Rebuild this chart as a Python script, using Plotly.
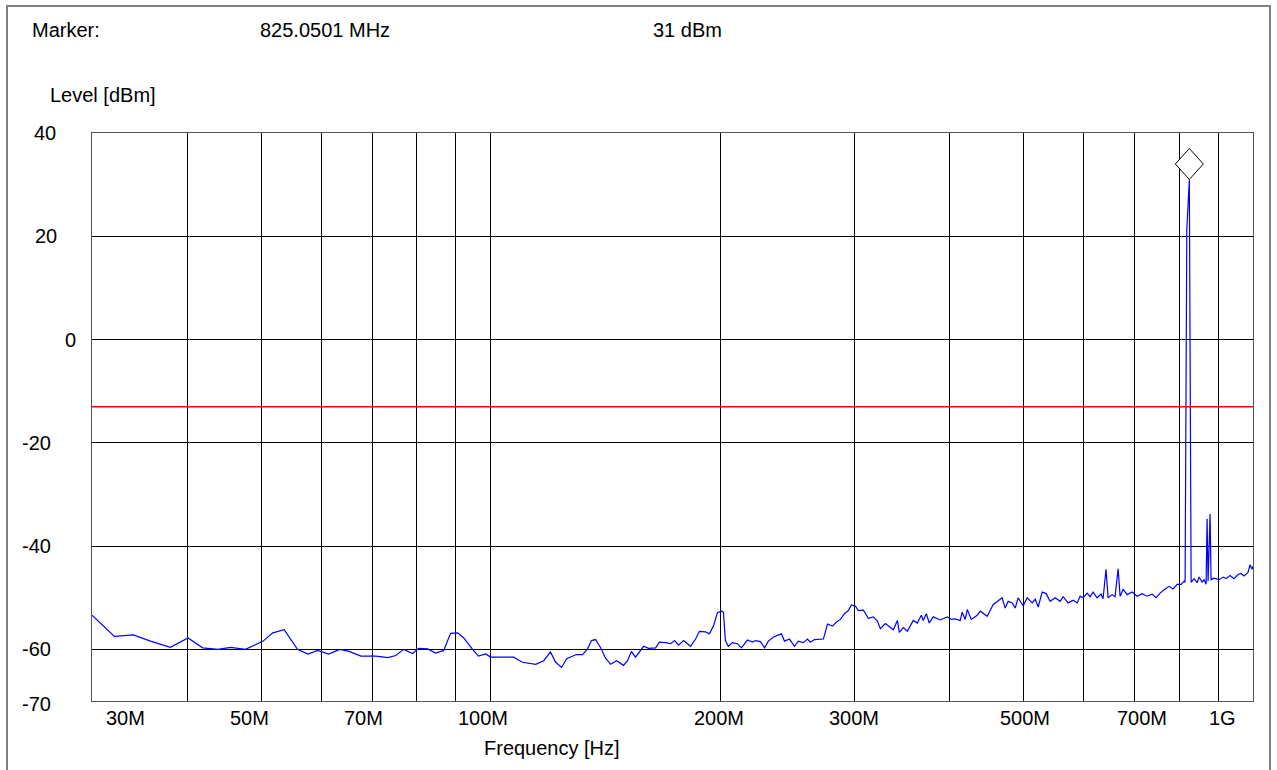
import numpy as np
import plotly.graph_objects as go

# ---------------- data ----------------
freq_mhz = [
    30.0, 32.1, 34.0, 35.8, 38.0, 40.1, 41.9, 43.9, 45.6, 47.7, 50.3, 51.8, 53.6, 55.0,
    55.8, 57.6, 59.3, 61.3, 63.4, 65.2, 67.6, 70.7, 73.3, 75.1, 76.9, 79.0, 80.5, 82.7,
    84.7, 86.8, 88.6, 90.5, 92.2, 94.7, 96.4, 98.5, 100.0,
    104.0, 107.2, 110.1, 114.6, 117.4, 119.8, 121.7, 123.9, 125.8, 129.6, 132.0, 134.0,
    135.6, 137.3, 139.4, 141.5, 143.7, 146.3, 149.4, 151.2, 153.0, 154.9, 158.7, 161.1,
    164.6, 166.5, 169.6, 172.2, 174.3, 176.4, 179.1, 182.9,
    185.7, 187.9, 191.3, 193.6, 196.0, 198.4, 200.8, 202.0, 203.2, 205.0, 207.6, 210.7,
    213.3, 217.2, 220.5, 222.5, 225.9, 228.7, 231.4, 235.0, 237.8, 240.7, 242.9, 246.6,
    250.3, 253.3, 257.2, 260.3, 262.7, 265.9, 273.2, 276.6, 280.8, 284.2, 287.6, 291.1,
    294.6, 297.3, 300.9, 303.6, 308.3, 313.0, 317.7, 321.6, 324.5, 329.4,
    337.5, 341.6, 343.6, 347.8, 352.0, 358.4, 362.8, 367.2, 369.4, 372.8, 376.2, 380.7,
    388.9, 397.2, 402.1, 406.9, 413.0, 415.5, 419.3, 421.9, 427.0, 434.8, 438.8, 448.1,
    456.3, 461.8, 468.8, 473.1, 477.4, 483.2, 487.6, 492.0, 499.5, 505.6, 513.3, 518.0,
    522.7, 529.0, 535.4, 541.9, 550.2, 558.6, 563.6, 572.1, 580.8, 587.9, 593.3,
    598.7, 605.9, 611.4, 617.0, 624.4, 632.0, 635.8, 641.5, 645.6, 653.4, 659.3, 665.4,
    669.4, 675.5, 683.8, 694.1, 704.7, 715.3, 726.2, 737.3, 746.2, 755.3, 766.9, 776.2,
    785.6, 795.2, 804.9, 812.2, 814.6, 818.8, 825.05, 829.5,
    837.2, 844.7, 849.8, 857.5, 862.7, 867.9, 870.5, 873.1, 878.4, 881.0, 888.9, 902.5,
    913.5, 921.8, 933.0, 944.3, 955.7, 964.5, 973.2, 985.0, 991.0, 997.0, 1000.0,
]
level_dbm = [
    -53.4, -57.5, -57.2, -58.4, -59.6, -57.8, -59.7, -60.0, -59.6, -60.0, -58.4, -56.8, -56.2, -58.7,
    -60.0, -60.9, -60.2, -60.9, -60.0, -60.4, -61.3, -61.3, -61.6, -61.2, -60.0, -60.8, -59.8, -59.9,
    -60.7, -60.2, -56.9, -56.8, -57.8, -60.0, -61.3, -60.9, -61.5,
    -61.5, -61.5, -62.5, -62.9, -62.2, -60.5, -62.5, -63.5, -61.8, -61.0, -61.0, -59.9,
    -58.3, -58.1, -59.7, -61.7, -62.9, -62.2, -63.1, -62.2, -60.4, -61.5, -59.4, -59.8,
    -59.7, -58.6, -58.7, -58.9, -58.3, -59.2, -58.3, -59.4,
    -58.0, -56.5, -56.6, -57.0, -55.5, -52.9, -52.6, -52.8, -58.3, -59.4, -58.7, -58.9,
    -59.7, -58.2, -58.6, -58.3, -58.5, -59.7, -58.4, -57.6, -57.3, -57.0, -58.4, -58.0,
    -59.4, -58.4, -58.7, -58.0, -58.6, -58.1, -58.0, -55.1, -55.5, -54.7, -54.2, -53.1,
    -52.5, -51.4, -51.6, -52.5, -52.4, -54.0, -53.7, -54.5, -56.0, -55.0,
    -56.2, -54.4, -56.7, -55.8, -56.5, -54.4, -54.9, -53.4, -54.4, -53.1, -54.9, -53.7,
    -54.3, -53.7, -54.2, -54.1, -54.4, -52.8, -54.2, -52.3, -54.2, -53.4, -52.6, -53.6,
    -51.3, -50.7, -50.0, -52.0, -50.7, -51.0, -52.0, -50.0, -51.6, -50.0, -51.0, -50.3,
    -51.8, -48.9, -49.2, -50.7, -50.0, -50.7, -49.8, -51.0, -50.5, -51.0, -49.7,
    -50.0, -49.1, -49.8, -48.9, -50.0, -49.3, -50.2, -44.5, -50.0, -49.4, -49.8, -44.4,
    -49.7, -48.4, -49.4, -48.9, -49.7, -49.2, -49.7, -49.3, -50.0, -49.1, -48.3, -47.8,
    -48.3, -47.4, -47.4, -46.8, -47.0, 21.3, 31.0, -47.0,
    -46.3, -47.1, -46.0, -47.0, -46.5, -47.4, -34.7, -46.8, -33.8, -46.5, -46.2, -46.5,
    -46.0, -46.3, -45.7, -46.3, -45.5, -45.3, -45.8, -45.1, -43.6, -44.5, -43.9,
]

limit_dbm = -13
marker_freq_mhz = 825.0501
marker_level_dbm = 31

x_grid_mhz = [40, 50, 60, 70, 80, 90, 100, 200, 300, 400, 500, 600, 700, 800, 900]
x_tick_mhz = [30, 50, 70, 100, 200, 300, 500, 700, 1000]
x_tick_text = ["30M", "50M", "70M", "100M", "200M", "300M", "500M", "700M", "1G"]
y_tick_vals = [40, 20, 0, -20, -40, -60, -70]
y_tick_text = ["40", "20", "0", "-20", "-40", "-60", "-70"]

# ---------------- figure ----------------
FONT = "Liberation Sans, Arial, sans-serif"
FS = 20
TOP, PLOT_H = 133, 568

fig = go.Figure()
fig.add_trace(go.Scatter(
    x=[f * 1e6 for f in freq_mhz], y=level_dbm, mode="lines",
    line=dict(color="#0000ff", width=1.2), hoverinfo="skip", showlegend=False,
))

# limit line
fig.add_shape(type="line", xref="paper", x0=0, x1=1, yref="y", y0=limit_dbm, y1=limit_dbm,
              line=dict(color="#ff0000", width=1.5), layer="above")

# marker diamond (bottom vertex on the marker peak)
fig.add_shape(type="path", xref="x", yref="y", xsizemode="pixel", ysizemode="pixel",
              xanchor=marker_freq_mhz * 1e6, yanchor=marker_level_dbm,
              path="M 0,0 L 14,15.5 L 0,31 L -14,15.5 Z",
              line=dict(color="black", width=1), fillcolor="white", layer="above")


def py(p):
    """pixel row -> paper y"""
    return (TOP + PLOT_H - p) / PLOT_H


def px(p):
    """pixel column -> paper x"""
    return (p - 92) / 1161


# outer frame
fig.add_shape(type="rect", xref="paper", yref="paper",
              x0=px(7), x1=px(1270), y0=py(790), y1=py(6),
              line=dict(color="#808080", width=2), fillcolor="rgba(0,0,0,0)", layer="below")

annotations = []
# x tick labels (positioned like the analyzer printout)
x_shifts = [33, -12, -9, -8, -1, 0, 1, 7, -31]
for f, t, s in zip(x_tick_mhz, x_tick_text, x_shifts):
    annotations.append(dict(x=np.log10(f * 1e6), xref="x", y=py(718), yref="paper",
                            text=t, showarrow=False, xanchor="center", yanchor="middle",
                            xshift=s, font=dict(size=FS)))
# y tick labels
y_label_x = {"40": 45, "20": 46, "0": 70}
for v, t in zip(y_tick_vals, y_tick_text):
    annotations.append(dict(x=px(y_label_x.get(t, 36)), xref="paper", y=v, yref="y",
                            text=t, showarrow=False, xanchor="center", yanchor="middle",
                            yshift=-3 if v == -70 else 0, font=dict(size=FS)))
# header / axis titles
annotations += [
    dict(x=px(30), y=py(30), text="Marker:", xanchor="left"),
    dict(x=px(258), y=py(30), text=f"{marker_freq_mhz:.4f} MHz", xanchor="left"),
    dict(x=px(651), y=py(30), text=f"{marker_level_dbm} dBm", xanchor="left"),
    dict(x=px(48), y=py(95), text="Level [dBm]", xanchor="left"),
    dict(x=px(552), y=py(748), text="Frequency [Hz]", xanchor="center"),
]
for a in annotations[-5:]:
    a.update(xref="paper", yref="paper", showarrow=False, yanchor="middle", font=dict(size=FS))

fig.update_layout(
    width=1277, height=770,
    margin=dict(l=92, r=24, t=TOP, b=770 - TOP - PLOT_H),
    paper_bgcolor="white", plot_bgcolor="white",
    font=dict(family=FONT, size=FS, color="black"),
    annotations=annotations,
    showlegend=False,
)
fig.update_xaxes(type="log", range=[np.log10(30e6), np.log10(1e9)],
                 tickvals=[f * 1e6 for f in x_grid_mhz], showticklabels=False, ticks="",
                 showgrid=True, gridcolor="black", gridwidth=1,
                 showline=True, linecolor="#555555", linewidth=1, mirror=True, zeroline=False)
fig.update_yaxes(range=[-70, 40], tickvals=y_tick_vals, showticklabels=False, ticks="",
                 showgrid=True, gridcolor="black", gridwidth=1,
                 showline=True, linecolor="#555555", linewidth=1, mirror=True, zeroline=False)

fig.write_html(
    "out.html",
    config={"displayModeBar": False},
    post_script="document.body.style.margin='0px'; document.body.style.overflow='hidden';",
)
